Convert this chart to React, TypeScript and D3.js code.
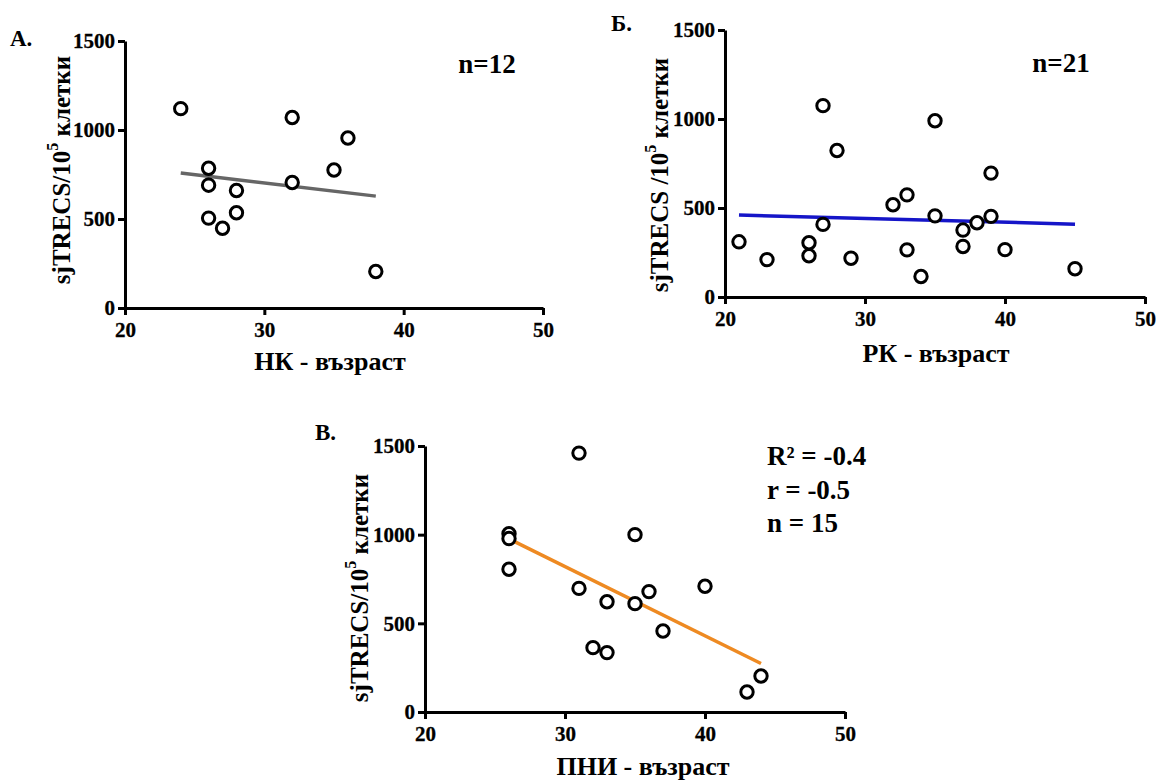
import React, { useEffect, useRef } from 'react';
import * as d3 from 'd3';

const xTicks = [20, 30, 40, 50];
const yTicks = [0, 500, 1000, 1500];

// НК
const nkAge = [24, 32, 36, 26, 35, 26, 32, 28, 26, 28, 27, 38];
const nkTrecs = [1120, 1070, 955, 785, 775, 690, 705, 660, 505, 535, 448, 205];

// РК
const rkAge = [21, 23, 26, 26, 27, 27, 28, 29, 32, 33, 33, 34, 35, 35, 37, 37, 38, 39, 39, 40, 45];
const rkTrecs = [310, 210, 305, 232, 1075, 408, 823, 218, 518, 574, 265, 115, 990, 456, 376, 284, 417, 696, 453, 266, 159];

// ПНИ
const pniAge = [31, 26, 26, 26, 35, 31, 33, 35, 36, 40, 37, 32, 33, 43, 44];
const pniTrecs = [1460, 1005, 978, 805, 1000, 697, 622, 611, 679, 709, 457, 363, 335, 113, 203];

const FONT = 'Liberation Serif, Times New Roman, serif';

const panels = [
  {
    age: nkAge, trecs: nkTrecs, color: '#666666',
    left: 125, right: 543, top: 41, bottom: 308,
    letter: 'A.', letterX: 10, letterY: 46,
    yTitle: 'sjTRECS/10', yTitleX: 70, yTitleY: 170,
    xTitle: 'НК - възраст', xTitleX: 330, xTitleY: 370,
    notes: ['n=12'], noteX: 487, noteY: 73, noteAnchor: 'middle',
  },
  {
    age: rkAge, trecs: rkTrecs, color: '#1515c8',
    left: 725, right: 1145, top: 30, bottom: 297,
    letter: 'Б.', letterX: 611, letterY: 31,
    yTitle: 'sjTRECS /10', yTitleX: 668, yTitleY: 175,
    xTitle: 'РК - възраст', xTitleX: 936, xTitleY: 362,
    notes: ['n=21'], noteX: 1061, noteY: 72, noteAnchor: 'middle',
  },
  {
    age: pniAge, trecs: pniTrecs, color: '#ee8a22',
    left: 425, right: 845, top: 446, bottom: 712,
    letter: 'В.', letterX: 315, letterY: 440,
    yTitle: 'sjTRECS/10', yTitleX: 368, yTitleY: 588,
    xTitle: 'ПНИ - възраст', xTitleX: 643, xTitleY: 775,
    notes: ['R² = -0.4', 'r = -0.5', 'n = 15'], noteX: 767, noteY: 465, noteAnchor: 'start',
  },
];

const App = () => {
  const svgRef = useRef<SVGSVGElement>(null);

  useEffect(() => {
    const svg = d3.select(svgRef.current);
    svg.selectAll('*').remove();

    panels.forEach((p) => {
      const x = d3.scaleLinear().domain([20, 50]).range([p.left, p.right]);
      const y = d3.scaleLinear().domain([0, 1500]).range([p.bottom, p.top]);
      const g = svg.append('g');

      const yAxis = g.append('g')
        .attr('transform', `translate(${p.left},0)`)
        .call(d3.axisLeft(y).tickValues(yTicks).tickSize(7).tickSizeOuter(0).tickPadding(3).tickFormat(d3.format('d')));
      const xAxis = g.append('g')
        .attr('transform', `translate(0,${p.bottom})`)
        .call(d3.axisBottom(x).tickValues(xTicks).tickSize(7).tickSizeOuter(0).tickPadding(7));

      [xAxis, yAxis].forEach((a) => {
        a.attr('font-family', FONT).attr('font-size', 21).attr('font-weight', 'bold');
        a.selectAll('path, line').attr('stroke', '#000').attr('stroke-width', 3);
        a.selectAll('text').attr('fill', '#000').attr('stroke', '#000').attr('stroke-width', 0.3);
      });

      // least squares fit
      const pts = p.age.map((a, i) => [a, p.trecs[i]]);
      const mx = d3.mean(p.age)!;
      const my = d3.mean(p.trecs)!;
      const sxy = d3.sum(pts, (d) => (d[0] - mx) * (d[1] - my));
      const sxx = d3.sum(p.age, (a) => (a - mx) * (a - mx));
      const slope = sxy / sxx;
      const [x0, x1] = d3.extent(p.age) as [number, number];
      const fit = (v: number) => my + slope * (v - mx);

      g.append('path')
        .attr('d', d3.line()([[x(x0), y(fit(x0))], [x(x1), y(fit(x1))]]))
        .attr('stroke', p.color)
        .attr('stroke-width', 3.5)
        .attr('fill', 'none');

      g.selectAll('circle.pt')
        .data(pts)
        .enter()
        .append('circle')
        .attr('class', 'pt')
        .attr('cx', (d) => x(d[0]))
        .attr('cy', (d) => y(d[1]))
        .attr('r', 6.2)
        .attr('fill', '#fff')
        .attr('stroke', '#000')
        .attr('stroke-width', 3);

      const txt = (sel) => sel
        .attr('fill', '#000')
        .attr('font-family', FONT)
        .attr('font-weight', 'bold');

      g.append('text').call(txt)
        .attr('x', p.letterX).attr('y', p.letterY)
        .attr('font-size', 23)
        .text(p.letter);

      const yt = g.append('text').call(txt)
        .attr('transform', `translate(${p.yTitleX},${p.yTitleY}) rotate(-90)`)
        .attr('text-anchor', 'middle')
        .attr('font-size', 25);
      yt.append('tspan').text(p.yTitle);
      yt.append('tspan').attr('dy', -12).attr('font-size', 16).text('5');
      yt.append('tspan').attr('dy', 12).text(' клетки');

      g.append('text').call(txt)
        .attr('x', p.xTitleX).attr('y', p.xTitleY)
        .attr('text-anchor', 'middle')
        .attr('font-size', 26)
        .text(p.xTitle);

      p.notes.forEach((n, i) => {
        g.append('text').call(txt)
          .attr('x', p.noteX).attr('y', p.noteY + i * 33.5)
          .attr('text-anchor', p.noteAnchor)
          .attr('font-size', 27)
          .text(n);
      });
    });
  }, []);

  return (
    <svg
      ref={svgRef}
      width={1160}
      height={780}
      style={{ position: 'absolute', left: 0, top: 0, background: '#fff' }}
    />
  );
};

export default App;
